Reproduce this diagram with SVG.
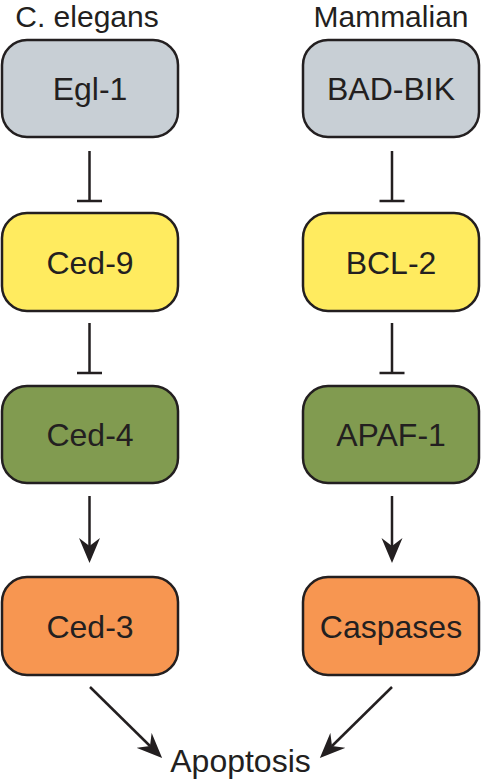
<svg xmlns="http://www.w3.org/2000/svg" width="482" height="780" viewBox="0 0 482 780">
<style>
.box{stroke:#231f20;stroke-width:2.5}
.lbl{font-family:"Liberation Sans",Arial,sans-serif;font-size:32px;fill:#231f20;text-anchor:middle}
.hd{font-family:"Liberation Sans",Arial,sans-serif;font-size:30px;fill:#231f20;text-anchor:middle}
.ln{stroke:#231f20;stroke-width:2.5;fill:none}
.grey{fill:#c8cfd5}.yel{fill:#ffeb5f}.grn{fill:#819b50}.org{fill:#f79651}
</style>
<defs>
<marker id="ah" markerUnits="userSpaceOnUse" markerWidth="26" markerHeight="22" refX="8" refY="11" orient="auto" viewBox="0 0 26 22">
<path d="M25,11 L0,0.5 L8,11 L0,21.5 Z" fill="#231f20"/>
</marker>
</defs>
<text class="hd" x="87" y="27">C. elegans</text>
<text class="hd" x="391" y="27">Mammalian</text>
<g id="egl1"><rect class="box grey" x="2" y="40" width="176" height="97" rx="25"/><text class="lbl" x="90" y="100">Egl-1</text></g>
<g id="ced9"><rect class="box yel" x="2" y="213" width="176" height="98" rx="25"/><text class="lbl" x="90" y="273.5">Ced-9</text></g>
<g id="ced4"><rect class="box grn" x="2" y="386" width="176" height="97" rx="25"/><text class="lbl" x="90" y="446">Ced-4</text></g>
<g id="ced3"><rect class="box org" x="2" y="577" width="176" height="98" rx="25"/><text class="lbl" x="90" y="637.5">Ced-3</text></g>
<g id="badbik"><rect class="box grey" x="303" y="40" width="176" height="97" rx="25"/><text class="lbl" x="391" y="100">BAD-BIK</text></g>
<g id="bcl2"><rect class="box yel" x="303" y="213" width="176" height="98" rx="25"/><text class="lbl" x="391" y="273.5">BCL-2</text></g>
<g id="apaf1"><rect class="box grn" x="303" y="386" width="176" height="97" rx="25"/><text class="lbl" x="391" y="446">APAF-1</text></g>
<g id="caspases"><rect class="box org" x="303" y="577" width="176" height="98" rx="25"/><text class="lbl" x="391" y="637.5">Caspases</text></g>
<g id="apoptosis"><text class="lbl" x="240.5" y="772">Apoptosis</text></g>
<g id="connectors">
<path class="ln" d="M89.5,151 V201 M77,201 H102"/>
<path class="ln" d="M89.5,323 V373 M77,373 H102"/>
<path class="ln" d="M392,151 V201 M379.5,201 H404.5"/>
<path class="ln" d="M392,323 V373 M379.5,373 H404.5"/>
<line class="ln" x1="89.5" y1="496" x2="89.5" y2="546" marker-end="url(#ah)"/>
<line class="ln" x1="392" y1="496" x2="392" y2="546" marker-end="url(#ah)"/>
<line class="ln" x1="90" y1="687" x2="150" y2="746" marker-end="url(#ah)"/>
<line class="ln" x1="392" y1="687" x2="332" y2="746" marker-end="url(#ah)"/>
</g>
</svg>
